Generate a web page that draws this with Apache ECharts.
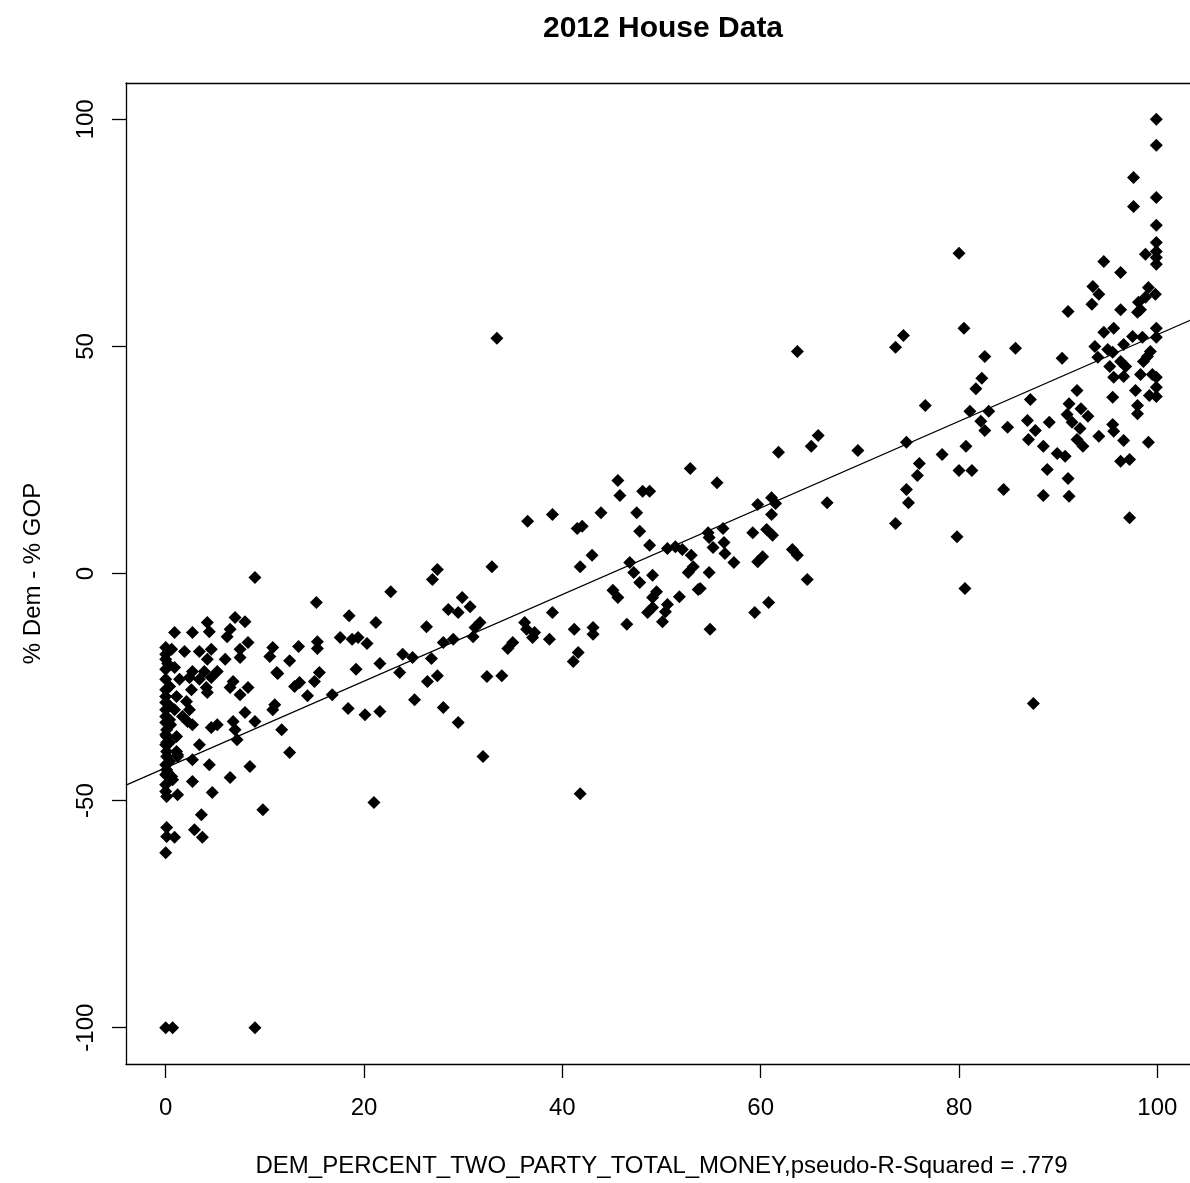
<!DOCTYPE html>
<html><head><meta charset="utf-8">
<script src="https://cdn.jsdelivr.net/npm/echarts@6/dist/echarts.min.js"></script>
<style>html,body{margin:0;padding:0;background:#fff}#c{width:1190px;height:1183px}</style>
</head><body><div id="c"></div>
<script>
const titleText = '2012 House Data';
const xName = 'DEM_PERCENT_TWO_PARTY_TOTAL_MONEY,pseudo-R-Squared = .779';
const yName = '% Dem - % GOP';
const xTicks = [0, 20, 40, 60, 80, 100];
const yTicks = [-100, -50, 0, 50, 100];
const fitX = [-4, 104];
const fitY = [-46.6, 56.4];
const districts = [
[0,-16.3],[0.6,-16.7],[0.9,-13.0],[0,-21.1],[0.9,-20.7],[0,-23.3],[0.4,-24.9],[0,-27.1],[1.1,-27.1],[0,-28.4],[0,-30.0],[0.9,-30.0],[0,-31.5],[0,-32.8],[0.1,-34.4],[0.1,-35.9],[1.1,-35.9],[0.1,-37.2],[0.1,-39.2],[1.1,-39.2],[0.1,-40.3],[1.2,-40.3],[0.1,-43.2],[0.6,-44.7],[0.7,-45.4],[0,-48.0],[0.1,-49.1],[1.2,-48.7],[0.1,-55.9],[0.1,-57.9],[0.9,-58.1],[0,-61.5],[0,-35.5],[0.4,-37.2],[1.2,-39.9],[0.2,-43.8],[0,-18.9],[0.2,-19.8],[0,-25.6],[0.4,-29.1],[0,-37.7],[0.4,-41.4],[0,-42.1],[0.5,-33.3],[0,-46.5],[0,-17.8],[0.4,-32.2],[0,-44.3],
[0,-100],[0.7,-100],[9.0,-100],
[7.0,-9.7],[8.0,-10.6],[4.2,-10.8],[4.4,-12.8],[2.7,-13.0],[6.5,-12.3],[6.2,-13.9],[8.3,-15.2],[1.9,-17.2],[3.4,-17.2],[4.6,-16.7],[7.5,-16.7],[10.8,-16.3],[10.5,-18.3],[4.2,-18.9],[6.0,-18.9],[7.5,-18.5],[2.7,-21.6],[3.9,-21.6],[5.2,-21.6],[1.4,-23.3],[2.4,-22.9],[3.4,-23.3],[4.6,-22.9],[6.8,-23.8],[11.2,-21.8],[2.6,-25.6],[4.1,-25.1],[6.5,-25.1],[8.3,-25.1],[7.5,-26.7],[4.2,-26.2],[2.1,-28.2],[11.0,-28.9],[2.4,-30.0],[10.8,-30.0],[8.0,-30.6],[1.7,-31.5],[2.2,-32.6],[2.7,-33.3],[5.2,-33.3],[4.6,-33.9],[6.8,-32.6],[9.0,-32.6],[7.0,-34.4],[7.2,-36.6],[3.4,-37.7],[2.7,-41.0],[4.4,-42.1],[8.5,-42.5],[2.7,-45.8],[6.5,-44.9],[4.7,-48.2],[3.6,-53.1],[9.8,-52.0],[2.9,-56.4],[3.7,-58.1],[9.0,-0.9],
[27.4,0.9],[26.9,-1.3],[32.9,1.5],[15.2,-6.4],[22.7,-4.0],[29.9,-5.3],[28.5,-7.9],[29.5,-8.6],[30.7,-7.3],[18.5,-9.3],[21.2,-10.8],[26.3,-11.7],[31.7,-10.8],[31.2,-11.9],[31.0,-13.9],[17.6,-14.1],[18.8,-14.5],[19.4,-14.1],[20.3,-15.4],[15.3,-15.0],[15.3,-16.5],[13.4,-16.1],[28.0,-15.2],[29.0,-14.5],[34.5,-16.5],[23.9,-17.8],[24.9,-18.5],[26.8,-18.7],[12.5,-19.2],[11.3,-22.0],[19.2,-21.1],[21.6,-19.8],[23.6,-21.8],[15.5,-21.8],[15.0,-23.8],[13.5,-24.0],[13.0,-24.9],[27.4,-22.5],[26.4,-23.8],[32.4,-22.7],[33.9,-22.5],[16.8,-26.7],[14.3,-26.9],[25.1,-27.8],[28.0,-29.5],[18.4,-29.7],[20.1,-31.1],[21.6,-30.4],[29.5,-32.8],[11.7,-34.4],[12.5,-39.4],[32.0,-40.3],[21.0,-50.4],[33.4,51.8],
[52.9,23.1],[45.6,20.5],[45.8,17.2],[48.1,18.1],[48.8,18.1],[36.5,11.5],[39.0,13.0],[43.9,13.4],[47.5,13.4],[41.5,9.9],[42.0,10.4],[47.8,9.3],[48.8,6.2],[50.6,5.5],[51.4,5.9],[52.1,5.3],[53.0,4.0],[43.0,4.0],[41.8,1.5],[46.8,2.4],[47.2,0.2],[47.8,-2.0],[49.1,-0.4],[52.7,0.2],[53.2,1.5],[45.1,-3.7],[45.6,-5.3],[49.5,-4.0],[49.1,-5.3],[51.8,-5.1],[53.7,-3.5],[50.6,-6.8],[49.1,-7.5],[48.6,-8.6],[50.4,-8.4],[50.1,-10.6],[46.5,-11.2],[39.0,-8.6],[36.2,-10.8],[36.4,-12.3],[37.2,-13.0],[37.0,-14.1],[38.7,-14.5],[41.2,-12.3],[43.1,-11.9],[43.1,-13.4],[35.0,-15.2],[41.6,-17.4],[41.1,-19.4],[41.8,-48.5],
[63.7,48.9],[74.4,52.4],[73.6,49.8],[65.8,30.4],[65.1,28.0],[61.8,26.7],[69.8,27.1],[74.7,28.9],[55.6,20.0],[74.7,18.5],[74.9,15.6],[73.6,11.0],[66.7,15.6],[59.7,15.2],[61.1,16.7],[61.5,15.4],[61.1,13.0],[54.7,9.0],[54.8,7.9],[56.2,9.9],[56.3,6.8],[55.2,5.7],[56.4,4.4],[57.3,2.4],[59.2,9.0],[60.6,9.7],[61.2,8.4],[59.7,2.6],[60.2,3.7],[63.2,5.3],[63.7,4.0],[54.8,0.2],[53.9,-3.3],[64.7,-1.3],[60.8,-6.4],[59.4,-8.6],[54.9,-12.3],
[80.0,70.5],[91.0,57.7],[80.5,54.0],[85.7,49.6],[82.6,47.8],[90.4,47.4],[82.3,43.0],[81.7,40.7],[76.6,37.0],[87.2,38.3],[91.9,40.3],[91.1,37.4],[81.1,35.7],[83.0,35.7],[82.2,33.5],[82.6,31.5],[84.9,32.2],[86.9,33.7],[87.7,31.5],[89.1,33.3],[87.0,29.5],[90.9,35.0],[91.4,33.3],[92.2,31.9],[91.9,29.5],[88.5,28.0],[89.9,26.4],[90.7,25.8],[78.3,26.2],[80.7,28.0],[76.0,24.2],[75.8,21.6],[80.0,22.7],[81.3,22.7],[88.9,22.9],[91.0,20.9],[84.5,18.5],[88.5,17.2],[91.1,17.0],[79.8,8.1],[80.6,-3.3],[87.5,-28.6],
[99.9,100],[99.9,94.3],[97.6,87.2],[99.9,82.8],[97.6,80.8],[99.9,76.7],[99.9,72.9],[99.9,70.9],[98.8,70.3],[99.9,69.6],[99.9,68.1],[94.6,68.7],[96.3,66.3],[93.5,63.2],[94.1,61.5],[93.4,59.3],[96.3,58.1],[99.1,63.0],[99.8,61.5],[98.8,60.8],[98.1,59.7],[98.0,57.5],[98.3,58.1],[94.6,53.1],[95.6,54.0],[99.9,54.0],[97.5,52.2],[98.5,52.0],
[99.9,52.0],[96.6,50.4],[93.7,50.0],[95.0,49.3],[95.5,48.7],[94.0,47.6],[99.3,48.9],[99.0,47.8],[98.6,46.7],[96.3,46.7],[96.8,45.6],[95.2,45.6],[95.6,43.2],[96.6,43.4],[98.3,43.8],[99.5,43.8],[99.9,43.2],[99.9,41.0],[97.8,40.3],[95.5,38.8],[99.2,39.2],[99.9,39.0],[98.0,37.0],[98.0,35.2],[92.3,36.3],[93.0,34.6],[95.5,32.8],[95.6,31.3],[94.1,30.2],[92.5,28.0],[96.6,29.3],[99.1,28.9],[96.3,24.7],[97.2,25.1],[97.2,12.3]
];

const FONT = '"Liberation Sans", Arial, sans-serif';
const AXIS_LINE = {show: true, onZero: false, lineStyle: {color: '#000', width: 1.3}};
const chart = echarts.init(document.getElementById('c'), null, {renderer: 'canvas'});
chart.setOption({
  animation: false,
  backgroundColor: '#fff',
  title: {
    text: titleText, left: 658, top: 9, textAlign: 'center',
    textStyle: {fontFamily: FONT, fontSize: 30, fontWeight: 'bold', color: '#000'}
  },
  grid: {
    left: 126, top: 83, right: -7, bottom: 119,
    show: false, containLabel: false, outerBoundsMode: 'none'
  },
  xAxis: [{
    type: 'value', min: -4, max: 104, position: 'bottom',
    axisLine: AXIS_LINE,
    splitLine: {show: false},
    axisTick: {show: true, length: 14, customValues: xTicks, lineStyle: {color: '#000', width: 1.3}},
    axisLabel: {customValues: xTicks, margin: 32, fontSize: 24, color: '#000', fontFamily: FONT},
    name: xName, nameLocation: 'middle', nameGap: 90,
    nameTextStyle: {fontSize: 24, color: '#000', fontFamily: FONT}
  }, {
    type: 'value', min: -4, max: 104, position: 'top',
    axisLine: AXIS_LINE, axisTick: {show: false}, axisLabel: {show: false}, splitLine: {show: false}
  }],
  yAxis: {
    type: 'value', min: -108, max: 108,
    axisLine: AXIS_LINE,
    splitLine: {show: false},
    axisTick: {show: true, length: 14, customValues: yTicks, lineStyle: {color: '#000', width: 1.3}},
    axisLabel: {customValues: yTicks, rotate: 90, margin: 28, fontSize: 24, color: '#000', fontFamily: FONT},
    name: yName, nameLocation: 'middle', nameGap: 81, nameRotate: 90,
    nameTextStyle: {fontSize: 24, color: '#000', fontFamily: FONT}
  },
  series: [
    {
      type: 'scatter', data: districts, symbol: 'diamond', symbolSize: 13,
      itemStyle: {color: '#000', opacity: 1}, silent: true
    },
    {
      type: 'line', data: fitX.map((x, i) => [x, fitY[i]]), showSymbol: false,
      lineStyle: {color: '#000', width: 1.2}, silent: true, clip: true
    }
  ]
});
</script>
</body></html>
